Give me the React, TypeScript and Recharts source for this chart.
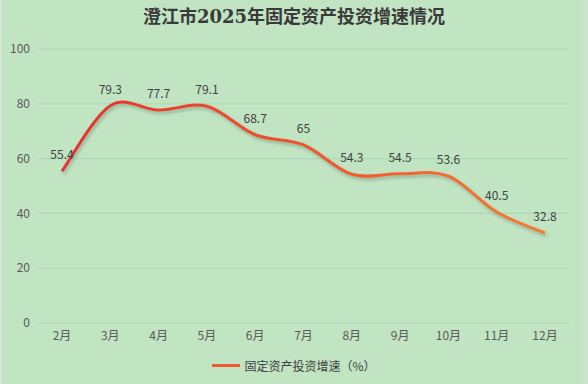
import { LineChart, Line, XAxis, YAxis, CartesianGrid, LabelList } from 'recharts';

const months = ['2月', '3月', '4月', '5月', '6月', '7月', '8月', '9月', '10月', '11月', '12月'];
const growth = [55.4, 79.3, 77.7, 79.1, 68.7, 65, 54.3, 54.5, 53.6, 40.5, 32.8];
const yTicks = [0, 20, 40, 60, 80, 100];

const data = months.map((m, i) => ({ name: m, value: growth[i] }));

const font = '"Noto Sans CJK SC", "Noto Sans", sans-serif';

// Catmull-Rom style smoothing, close to what office charts draw
function smoothCurve(context: any) {
  let pts: [number, number][] = [];
  return {
    areaStart() {},
    areaEnd() {},
    lineStart() {
      pts = [];
    },
    point(x: number, y: number) {
      pts.push([+x, +y]);
    },
    lineEnd() {
      if (!pts.length) return;
      context.moveTo(pts[0][0], pts[0][1]);
      for (let i = 0; i < pts.length - 1; i++) {
        const p0 = pts[i - 1] || pts[i];
        const p1 = pts[i];
        const p2 = pts[i + 1];
        const p3 = pts[i + 2] || p2;
        const c1x = p1[0] + (p2[0] - p0[0]) / 6;
        const c1y = p1[1] + (p2[1] - p0[1]) / 6;
        const c2x = p2[0] - (p3[0] - p1[0]) / 6;
        const c2y = p2[1] - (p3[1] - p1[1]) / 6;
        context.bezierCurveTo(c1x, c1y, c2x, c2y, p2[0], p2[1]);
      }
    },
  };
}

export default function App() {
  return (
    <div
      style={{
        position: 'fixed',
        left: 0,
        top: 0,
        width: 588,
        height: 384,
        background: '#c1e4c3',
        fontFamily: font,
        boxSizing: 'border-box',
        borderLeft: '2px solid #d3e8d5',
        borderRight: '5px solid #cde3cf',
      }}
    >
      <div
        style={{
          position: 'absolute',
          top: 4,
          left: -2,
          width: 588,
          textAlign: 'center',
          fontSize: 18,
          fontWeight: 'bold',
          color: '#3a3a3a',
          fontFamily: '"DejaVu Serif", "Noto Sans CJK SC", serif',
          lineHeight: '26px',
        }}
      >
        澄江市2025年固定资产投资增速情况
      </div>
      <div style={{ position: 'absolute', left: -2, top: 0 }}>
        <LineChart width={588} height={384} data={data} margin={{ top: 49, right: 19, left: 0, bottom: 31 }}>
          <defs>
            <linearGradient id="lineGrad" x1="0" y1="0" x2="1" y2="0">
              <stop offset="0%" stopColor="#e5302c" />
              <stop offset="100%" stopColor="#f57a32" />
            </linearGradient>
            <filter id="shadow" x="-10%" y="-10%" width="120%" height="130%">
              <feDropShadow dx="1.5" dy="2.5" stdDeviation="1.5" floodColor="#3a5a3f" floodOpacity="0.35" />
            </filter>
          </defs>
          <CartesianGrid vertical={false} stroke="#abd9b1" strokeWidth={1} />
          <XAxis
            dataKey="name"
            axisLine={false}
            tickLine={false}
            height={30}
            padding={{ left: 24, right: 24 }}
            tick={{ fill: '#595959', fontSize: 12, fontFamily: font }}
            interval={0}
          />
          <YAxis
            width={38}
            domain={[0, 100]}
            ticks={yTicks}
            axisLine={false}
            tickLine={false}
            tick={{ fill: '#595959', fontSize: 12, fontFamily: font }}
          />
          <Line
            type={smoothCurve as any}
            dataKey="value"
            stroke="url(#lineGrad)"
            strokeWidth={3}
            dot={false}
            filter="url(#shadow)"
            isAnimationActive={false}
          >
            <LabelList dataKey="value" position="top" offset={12} fill="#404040" fontSize={12} fontFamily={font} />
          </Line>
        </LineChart>
      </div>
      <div
        style={{
          position: 'absolute',
          top: 357,
          left: -2,
          width: 588,
          display: 'flex',
          justifyContent: 'center',
          alignItems: 'center',
          fontSize: 12,
          color: '#404040',
        }}
      >
        <span style={{ display: 'inline-block', width: 28, height: 3, background: '#f05a30', marginRight: 4 }} />
        <span>固定资产投资增速（%）</span>
      </div>
    </div>
  );
}
